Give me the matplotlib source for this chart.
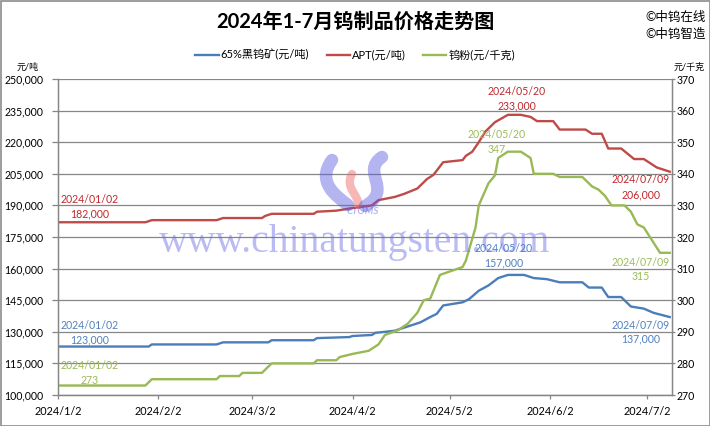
import matplotlib
matplotlib.use("Agg")
import matplotlib.pyplot as plt
import matplotlib.dates as mdates
from matplotlib.ticker import FuncFormatter, FixedLocator
from matplotlib.patches import Rectangle, PathPatch
from matplotlib.path import Path
import pandas as pd

plt.rcParams['font.family'] = ['Lato', 'Noto Sans CJK SC', 'DejaVu Sans']

# ---------------- data ----------------
ore_dates = ["2024-01-02", "2024-01-30", "2024-01-31", "2024-02-20", "2024-02-22", "2024-03-07",
             "2024-03-08", "2024-03-21", "2024-03-22", "2024-04-01", "2024-04-02", "2024-04-08",
             "2024-04-09", "2024-04-15", "2024-04-17", "2024-04-20", "2024-04-23", "2024-04-26",
             "2024-04-28", "2024-04-30", "2024-05-06", "2024-05-08", "2024-05-11", "2024-05-14",
             "2024-05-17", "2024-05-20", "2024-05-25", "2024-05-28", "2024-06-01", "2024-06-05",
             "2024-06-12", "2024-06-14", "2024-06-18", "2024-06-20", "2024-06-24", "2024-06-27",
             "2024-07-01", "2024-07-04", "2024-07-09"]
ore_vals = [123000, 123000, 124000, 124000, 125000, 125000,
            126000, 126000, 127000, 127500, 128000, 128500,
            129500, 130500, 131500, 133000, 134500, 137000,
            138500, 142500, 144000, 145500, 149500, 152000,
            155500, 157000, 157000, 155500, 155000, 153500,
            153500, 151000, 151000, 146500, 146500, 142000,
            141000, 139000, 137000]

apt_dates = ["2024-01-02", "2024-01-29", "2024-01-31", "2024-02-20", "2024-02-22", "2024-03-05",
             "2024-03-06", "2024-03-08", "2024-03-21", "2024-03-22", "2024-03-28", "2024-04-01",
             "2024-04-08", "2024-04-10", "2024-04-15", "2024-04-18", "2024-04-22", "2024-04-25",
             "2024-04-27", "2024-04-30", "2024-05-06", "2024-05-07", "2024-05-09", "2024-05-11",
             "2024-05-13", "2024-05-16", "2024-05-20", "2024-05-24", "2024-05-27", "2024-05-29",
             "2024-06-03", "2024-06-05", "2024-06-13", "2024-06-15", "2024-06-18", "2024-06-20",
             "2024-06-24", "2024-06-28", "2024-07-01", "2024-07-03", "2024-07-05", "2024-07-09"]
apt_vals = [182000, 182000, 183000, 183000, 184000, 184000,
            185000, 186000, 186000, 187000, 187500, 188500,
            190000, 192500, 194000, 195500, 198000, 202500,
            204500, 210500, 211500, 213500, 215500, 220000,
            225000, 229500, 233000, 233000, 232000, 230000,
            230000, 226000, 226000, 224000, 224000, 217000,
            217000, 212000, 212000, 210000, 208000, 206000]

powder_dates = ["2024-01-02", "2024-01-29", "2024-01-31", "2024-02-20", "2024-02-21", "2024-02-27",
                "2024-02-28", "2024-03-05", "2024-03-06", "2024-03-08", "2024-03-21", "2024-03-22",
                "2024-03-28", "2024-03-29", "2024-04-02", "2024-04-07", "2024-04-10", "2024-04-12",
                "2024-04-16", "2024-04-19", "2024-04-22", "2024-04-24", "2024-04-26", "2024-04-29",
                "2024-05-06", "2024-05-07", "2024-05-10", "2024-05-11", "2024-05-14", "2024-05-16",
                "2024-05-17", "2024-05-20", "2024-05-24", "2024-05-27", "2024-05-28", "2024-06-03",
                "2024-06-05", "2024-06-12", "2024-06-15", "2024-06-17", "2024-06-19", "2024-06-21",
                "2024-06-25", "2024-06-27", "2024-06-29", "2024-07-01", "2024-07-06", "2024-07-09"]
powder_vals = [273, 273, 275, 275, 276, 276,
               277, 277, 278, 280, 280, 281,
               281, 282, 283, 284, 286, 289,
               290.5, 292.5, 296, 300, 300.5, 308,
               310.5, 312.5, 323, 330, 337, 339.5,
               345, 347, 347, 345, 340, 340,
               339, 339, 336, 335, 333, 330,
               330, 328, 324, 323, 315, 315]

x_tick_dates = ["2024-01-02", "2024-02-02", "2024-03-02", "2024-04-02", "2024-05-02", "2024-06-02", "2024-07-02"]
x_tick_labels = ["2024/1/2", "2024/2/2", "2024/3/2", "2024/4/2", "2024/5/2", "2024/6/2", "2024/7/2"]
left_ticks = list(range(100000, 250001, 15000))
right_ticks = list(range(270, 371, 10))

title = "2024年1-7月钨制品价格走势图"
names = ["65%黑钨矿(元/吨)", "APT(元/吨)", "钨粉(元/千克)"]

# ---------------- style ----------------
W, H = 710, 426
C_ORE, C_APT, C_PWD = "#4A7EBB", "#BE4B48", "#98B954"
T_ORE, T_APT, T_PWD = "#4F81BD", "#C0282D", "#9BBB59"
GRID = "#868686"

fig = plt.figure(figsize=(W / 100, H / 100), dpi=100)
fig.patch.set_facecolor("white")

L, R, T, B = 58, 672, 79, 395
ax = fig.add_axes([L / W, 1 - B / H, (R - L) / W, (B - T) / H])
ax2 = ax.twinx()

od = pd.to_datetime(ore_dates)
ad = pd.to_datetime(apt_dates)
pdd = pd.to_datetime(powder_dates)

l1, = ax.plot(od, ore_vals, color=C_ORE, lw=1.7, solid_joinstyle="round")
l2, = ax.plot(ad, apt_vals, color=C_APT, lw=1.7, solid_joinstyle="round")
l3, = ax2.plot(pdd, powder_vals, color=C_PWD, lw=1.7, solid_joinstyle="round")

x0 = pd.Timestamp("2024-01-02")
x1 = x0 + pd.Timedelta(days=189.7)
ax.set_xlim(x0, x1)
ax.set_ylim(100000, 250000)
ax2.set_ylim(270, 370)

ax.yaxis.set_major_locator(FixedLocator(left_ticks))
ax.yaxis.set_major_formatter(FuncFormatter(lambda v, p: f"{int(round(v)):,}"))
ax2.yaxis.set_major_locator(FixedLocator(right_ticks))
ax2.yaxis.set_major_formatter(FuncFormatter(lambda v, p: f"{int(round(v))}"))

ax.set_xticks(pd.to_datetime(x_tick_dates))
ax.set_xticklabels(x_tick_labels)

ax.grid(axis="y", color=GRID, lw=0.9)
ax.set_axisbelow(True)
for a in (ax, ax2):
    for s in a.spines.values():
        s.set_color(GRID)
        s.set_linewidth(0.9)
    a.spines["top"].set_visible(False)

ax.tick_params(axis="y", which="major", direction="out", length=4, width=0.9,
               color=GRID, pad=6.5, labelsize=7.6, labelcolor="#000000")
ax.tick_params(axis="x", which="major", direction="out", length=3, width=0.9,
               color=GRID, pad=5, labelsize=7.8, labelcolor="#000000")
ax2.tick_params(axis="y", which="major", direction="out", length=2, width=0.9,
                color=GRID, pad=1.5, labelsize=7.6, labelcolor="#000000")

# ---------------- annotations ----------------
def note(axis, date, val, dx, dy, txt, col):
    axis.annotate(txt, xy=(pd.Timestamp(date), val), xytext=(dx, dy),
                  textcoords="offset pixels", ha="center", va="center",
                  fontsize=7.6, color=col, annotation_clip=False)

first_ore, last_ore = ore_vals[0], ore_vals[-1]
peak_ore = max(ore_vals)
note(ax, ore_dates[0], first_ore, 32, 21.5, "2024/01/02", T_ORE)
note(ax, ore_dates[0], first_ore, 32, 6.5, f"{first_ore:,}", T_ORE)
note(ax, "2024-05-20", peak_ore, -4, 26, "2024/05/20", T_ORE)
note(ax, "2024-05-20", peak_ore, -4, 11.6, f"{peak_ore:,}", T_ORE)
note(ax, ore_dates[-1], last_ore, -29, -8, "2024/07/09", T_ORE)
note(ax, ore_dates[-1], last_ore, -29, -22, f"{last_ore:,}", T_ORE)

first_apt, last_apt, peak_apt = apt_vals[0], apt_vals[-1], max(apt_vals)
note(ax, apt_dates[0], first_apt, 32, 23.2, "2024/01/02", T_APT)
note(ax, apt_dates[0], first_apt, 32, 8.2, f"{first_apt:,}", T_APT)
note(ax, "2024-05-20", peak_apt, 9, 23.1, "2024/05/20", T_APT)
note(ax, "2024-05-20", peak_apt, 9, 9.1, f"{peak_apt:,}", T_APT)
note(ax, apt_dates[-1], last_apt, -29, -8.3, "2024/07/09", T_APT)
note(ax, apt_dates[-1], last_apt, -29, -23.3, f"{last_apt:,}", T_APT)

first_p, last_p, peak_p = powder_vals[0], powder_vals[-1], max(powder_vals)
note(ax2, powder_dates[0], first_p, 32, 20.5, "2024/01/02", T_PWD)
note(ax2, powder_dates[0], first_p, 32, 5.5, f"{first_p:g}", T_PWD)
note(ax2, "2024-05-20", peak_p, -11, 17.4, "2024/05/20", T_PWD)
note(ax2, "2024-05-20", peak_p, -11, 1.7, f"{peak_p:g}", T_PWD)
note(ax2, powder_dates[-1], last_p, -29, -9.2, "2024/07/09", T_PWD)
note(ax2, powder_dates[-1], last_p, -29, -23.9, f"{last_p:g}", T_PWD)

# ---------------- texts ----------------
fig.text(355 / W, 1 - 22 / H, title, ha="center", va="center", fontsize=14.5,
         fontweight="bold", color="#000000")
fig.text(676 / W, 1 - 17 / H, "©中钨在线", ha="center", va="center", fontsize=9, color="#000000")
fig.text(676 / W, 1 - 34 / H, "©中钨智造", ha="center", va="center", fontsize=9, color="#000000")
fig.text(28 / W, 1 - 67 / H, "元/吨", ha="center", va="center", fontsize=6.5, color="#000000")
fig.text(689 / W, 1 - 67 / H, "元/千克", ha="center", va="center", fontsize=6.5, color="#000000")

fig.legend([l1, l2, l3], names, loc="center", bbox_to_anchor=(355 / W, 1 - 55 / H),
           ncol=3, frameon=False, fontsize=8, handlelength=2.1, handletextpad=0.15,
           columnspacing=1.6, borderaxespad=0)

# ---------------- watermark overlay ----------------
ov = fig.add_axes([0, 0, 1, 1], zorder=10)
ov.set_xlim(0, W)
ov.set_ylim(H, 0)
ov.axis("off")
ov.patch.set_alpha(0)
ov.text(355, 252, "www.chinatungsten.com", ha="center", va="baseline",
        family="Liberation Serif", fontsize=28.5, color="#6A6AE8", alpha=0.45)

def curve(pts, col, lw, alpha):
    codes = [Path.MOVETO] + [Path.CURVE4] * (len(pts) - 1)
    ov.add_patch(PathPatch(Path(pts, codes), fill=False, edgecolor=col, lw=lw,
                           alpha=alpha, capstyle="round"))

curve([(332, 160), (316, 182), (336, 196), (348, 205)], "#5A5AE0", 9, 0.45)
curve([(352, 174), (344, 188), (360, 196), (358, 205)], "#F07070", 6, 0.5)
curve([(382, 157), (360, 172), (394, 190), (365, 206)], "#5A5AE0", 9, 0.45)
ov.text(363, 211, "CTOMS", ha="center", va="center", fontsize=7, fontweight="bold",
        fontstyle="italic", color="#5A5AE0", alpha=0.45)

ov.add_patch(Rectangle((0.5, 0.5), W - 1, H - 1, fill=False, edgecolor="#8C8C8C", lw=1.2))

fig.savefig("out.png", dpi=100, facecolor="white")
